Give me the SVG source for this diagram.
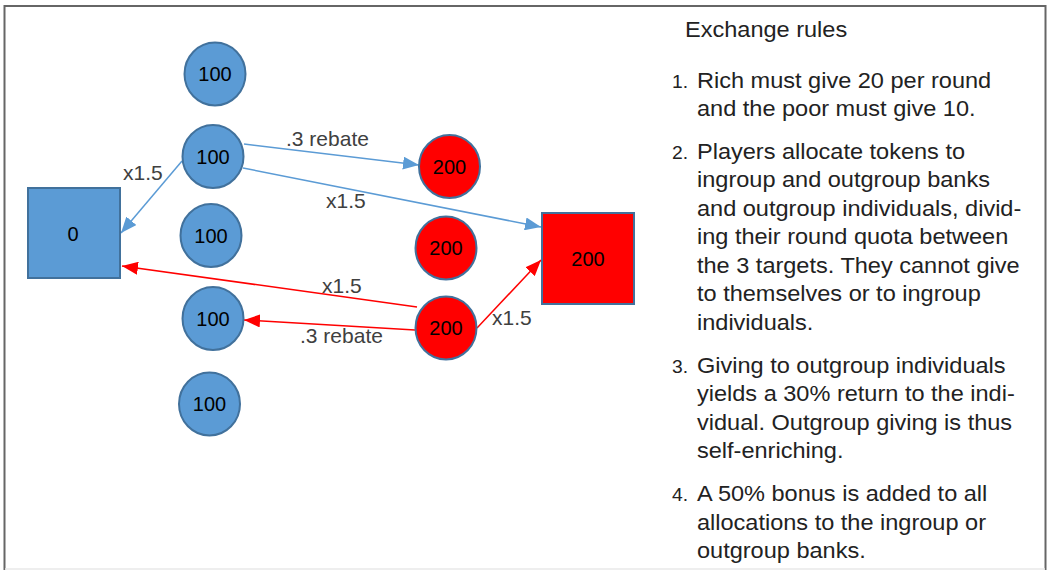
<svg xmlns="http://www.w3.org/2000/svg" width="1049" height="570" viewBox="0 0 1049 570">
<style>
.blue{fill:#5B9BD5;stroke:#41719C;stroke-width:2}
.red{fill:#FF0000;stroke:#41719C;stroke-width:2}
.nt{font-family:"Liberation Sans",Arial,sans-serif;font-size:20px;fill:#000;text-anchor:middle}
.el{font-family:"Liberation Sans",Arial,sans-serif;font-size:21px;fill:#404040}
.bl{stroke:#5B9BD5;stroke-width:1.5;fill:none}
.rl{stroke:#FF0000;stroke-width:1.5;fill:none}
.rt{font-family:"Liberation Sans",Arial,sans-serif;font-size:22px;fill:#222}
.num{font-family:"Liberation Sans",Arial,sans-serif;font-size:18px;fill:#222}
</style>
<defs>
<marker id="ab" viewBox="0 0 16 13" refX="16" refY="6.5" markerWidth="16" markerHeight="13" markerUnits="userSpaceOnUse" orient="auto"><path d="M0,0 L16,6.5 L0,13 z" fill="#5B9BD5"/></marker>
<marker id="ar" viewBox="0 0 16 13" refX="16" refY="6.5" markerWidth="16" markerHeight="13" markerUnits="userSpaceOnUse" orient="auto"><path d="M0,0 L16,6.5 L0,13 z" fill="#FF0000"/></marker>
</defs>
<rect x="0" y="0" width="1049" height="570" fill="#fff"/>
<rect x="4.5" y="6" width="1041" height="570" fill="none" stroke="#666" stroke-width="2"/>
<line x1="5" y1="569" x2="1045" y2="569" stroke="#e8e8e8" stroke-width="1.5"/>

<g id="connectors">
<line class="bl" x1="182" y1="161" x2="121" y2="233" marker-end="url(#ab)"/>
<line class="bl" x1="244" y1="144" x2="419" y2="165" marker-end="url(#ab)"/>
<line class="bl" x1="243" y1="168" x2="541" y2="227" marker-end="url(#ab)"/>
<line class="rl" x1="417" y1="307" x2="122" y2="266" marker-end="url(#ar)"/>
<line class="rl" x1="415" y1="330" x2="244" y2="320" marker-end="url(#ar)"/>
<line class="rl" x1="477" y1="328" x2="541" y2="260" marker-end="url(#ar)"/>
<text class="el" x="123" y="180">x1.5</text>
<text class="el" x="286" y="146">.3 rebate</text>
<text class="el" x="326" y="208">x1.5</text>
<text class="el" x="322" y="293">x1.5</text>
<text class="el" x="300" y="343">.3 rebate</text>
<text class="el" x="492" y="325">x1.5</text>
</g>

<g id="bank-blue"><rect class="blue" x="28" y="188" width="92" height="90"/><text class="nt" x="73" y="241">0</text></g>
<g id="bank-red"><rect class="red" x="542" y="213" width="92" height="91"/><text class="nt" x="588" y="266">200</text></g>
<g id="blue-1"><ellipse class="blue" cx="215" cy="74" rx="30.5" ry="31.5"/><text class="nt" x="215" y="81">100</text></g>
<g id="blue-2"><ellipse class="blue" cx="213" cy="156.5" rx="30.5" ry="31.5"/><text class="nt" x="213" y="163.5">100</text></g>
<g id="blue-3"><ellipse class="blue" cx="211" cy="235.5" rx="30.5" ry="31.5"/><text class="nt" x="211" y="242.5">100</text></g>
<g id="blue-4"><ellipse class="blue" cx="213" cy="318.5" rx="30.5" ry="31.5"/><text class="nt" x="213" y="325.5">100</text></g>
<g id="blue-5"><ellipse class="blue" cx="209.5" cy="404" rx="30.5" ry="31.5"/><text class="nt" x="209.5" y="411">100</text></g>
<g id="red-1"><ellipse class="red" cx="449.5" cy="166.5" rx="30.5" ry="31.5"/><text class="nt" x="449.5" y="173.5">200</text></g>
<g id="red-2"><ellipse class="red" cx="446" cy="248" rx="30.5" ry="31.5"/><text class="nt" x="446" y="255">200</text></g>
<g id="red-3"><ellipse class="red" cx="446" cy="328" rx="30.5" ry="31.5"/><text class="nt" x="446" y="335">200</text></g>

<g id="rules" transform="scale(1.07 1)">
<text class="rt" x="640.2" y="37">Exchange rules</text>
<text class="num" x="628" y="88">1.</text>
<text class="rt" x="651.4" y="88">Rich must give 20 per round</text>
<text class="rt" x="651.4" y="116.5">and the poor must give 10.</text>
<text class="num" x="628" y="159">2.</text>
<text class="rt" x="651.4" y="159">Players allocate tokens to</text>
<text class="rt" x="651.4" y="187.5">ingroup and outgroup banks</text>
<text class="rt" x="651.4" y="216">and outgroup individuals, divid-</text>
<text class="rt" x="651.4" y="244.5">ing their round quota between</text>
<text class="rt" x="651.4" y="273">the 3 targets. They cannot give</text>
<text class="rt" x="651.4" y="301.5">to themselves or to ingroup</text>
<text class="rt" x="651.4" y="330">individuals.</text>
<text class="num" x="628" y="373">3.</text>
<text class="rt" x="651.4" y="373">Giving to outgroup individuals</text>
<text class="rt" x="651.4" y="401.5">yields a 30% return to the indi-</text>
<text class="rt" x="651.4" y="430">vidual. Outgroup giving is thus</text>
<text class="rt" x="651.4" y="458.5">self-enriching.</text>
<text class="num" x="628" y="501.5">4.</text>
<text class="rt" x="651.4" y="501.5">A 50% bonus is added to all</text>
<text class="rt" x="651.4" y="530">allocations to the ingroup or</text>
<text class="rt" x="651.4" y="558.5">outgroup banks.</text>
</g>
</svg>
